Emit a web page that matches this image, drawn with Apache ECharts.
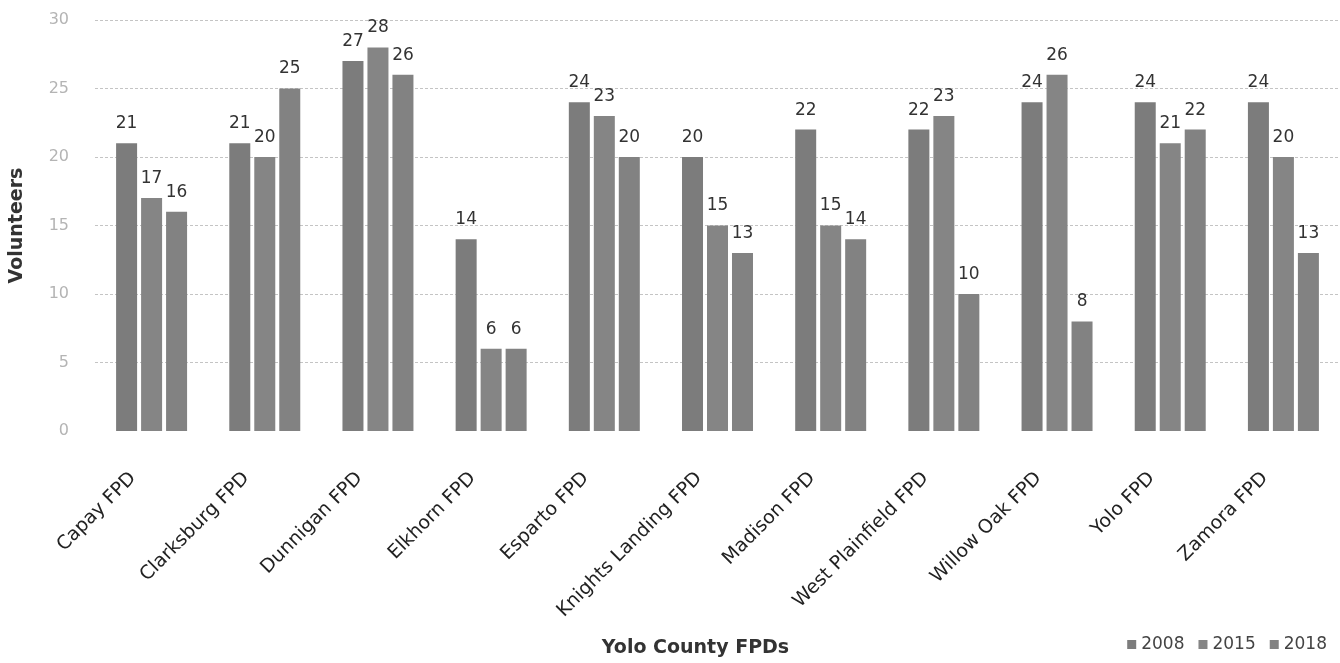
<!DOCTYPE html>
<html>
<head>
<meta charset="utf-8">
<script src="https://cdn.jsdelivr.net/npm/echarts@6/dist/echarts.min.js"></script>
<style>
html,body{margin:0;padding:0;background:#fff;}
#chart{width:1340px;height:663px;}
</style>
</head>
<body>
<div id="chart"></div>
<script>
const categories = ['Capay FPD','Clarksburg FPD','Dunnigan FPD','Elkhorn FPD','Esparto FPD','Knights Landing FPD','Madison FPD','West Plainfield FPD','Willow Oak FPD','Yolo FPD','Zamora FPD'];
const seriesNames = ['2008','2015','2018'];
const values2008 = [21,21,27,14,24,20,22,22,24,24,24];
const values2015 = [17,20,28,6,23,15,15,23,26,21,20];
const values2018 = [16,25,26,6,20,13,14,10,8,22,13];
const yTicks = [0,5,10,15,20,25,30];

const FONT = 'DejaVu Sans';
const barColors = ['#7c7c7c','#858585','#828282'];
const allValues = [values2008, values2015, values2018];

const chart = echarts.init(document.getElementById('chart'));
chart.setOption({
  backgroundColor: '#ffffff',
  animation: false,
  textStyle: { fontFamily: FONT },
  grid: { left: 86, right: 0, top: 20, bottom: 223, containLabel: false },
  legend: {
    right: 8, bottom: 5,
    itemWidth: 9, itemHeight: 9, itemGap: 14,
    icon: 'rect',
    textStyle: { fontFamily: FONT, fontSize: 17, color: '#444' },
    data: seriesNames
  },
  xAxis: {
    type: 'category',
    data: categories,
    name: 'Yolo County FPDs',
    nameLocation: 'middle',
    nameGap: 208,
    nameTextStyle: { fontFamily: FONT, fontSize: 19, fontWeight: 'bold', color: '#333', padding: [0, 44, 0, 0] },
    axisLine: { show: false },
    axisTick: { show: false },
    axisLabel: { rotate: 45, margin: 26, fontSize: 19, color: '#222', fontFamily: FONT, interval: 0, padding: [0, 26, 0, 0] }
  },
  yAxis: {
    type: 'value',
    min: yTicks[0], max: yTicks[yTicks.length-1], interval: 5,
    name: 'Volunteers',
    nameLocation: 'middle',
    nameRotate: 90,
    nameGap: 68,
    nameTextStyle: { fontFamily: FONT, fontSize: 19, fontWeight: 'bold', color: '#333' },
    axisLine: { show: false },
    axisTick: { show: false },
    axisLabel: { margin: 26, fontSize: 16, color: '#b4b4b4', fontFamily: FONT },
    splitLine: { show: true, lineStyle: { type: [3,2], width: 1, color: ['rgba(0,0,0,0)','#c4c4c4','#c4c4c4','#c4c4c4','#c4c4c4','#c4c4c4','#c4c4c4'] } }
  },
  series: seriesNames.map((n, i) => ({
    name: n,
    type: 'bar',
    data: allValues[i],
    barWidth: 21,
    barGap: '19%',
    barCategoryGap: '38%',
    itemStyle: { color: barColors[i] },
    label: { show: true, position: 'top', distance: 11, fontSize: 17, color: '#333', fontFamily: FONT }
  }))
});
</script>
</body>
</html>
